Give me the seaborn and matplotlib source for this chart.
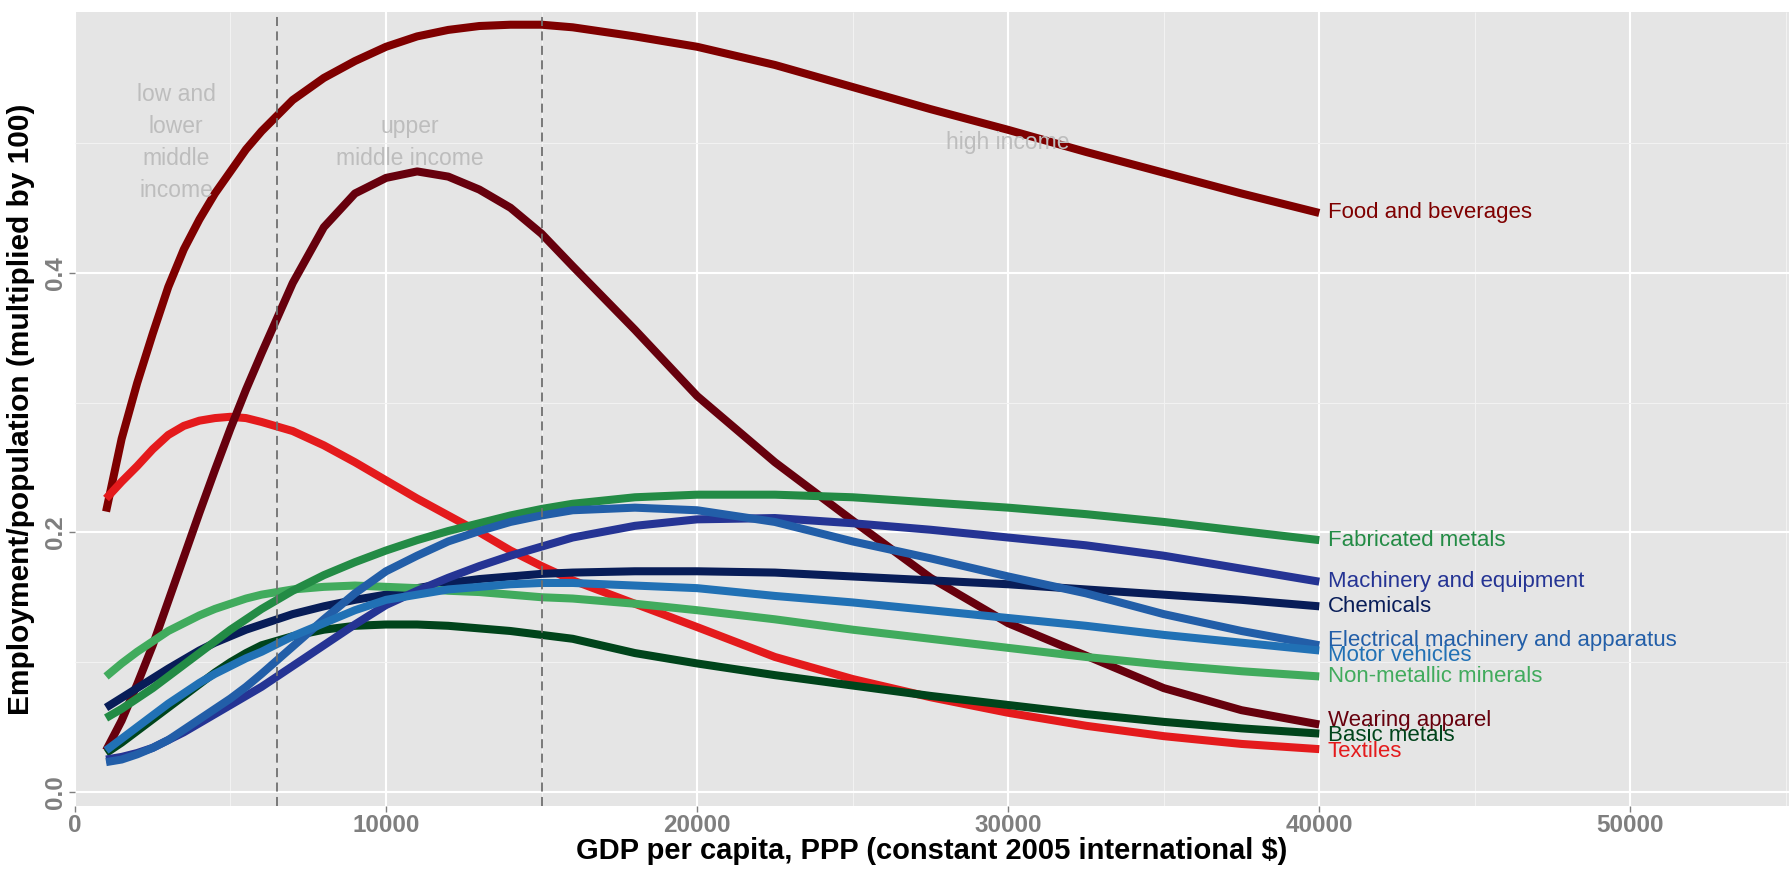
import matplotlib
matplotlib.use("Agg")
import matplotlib.pyplot as plt
import seaborn as sns
import numpy as np
import pandas as pd

# GDP per capita grid (constant 2005 international $)
gdp = [1000, 1500, 2000, 2500, 3000, 3500, 4000, 4500, 5000, 5500, 6000, 7000, 8000, 9000,
       10000, 11000, 12000, 13000, 14000, 15000, 16000, 18000, 20000, 22500, 25000, 27500,
       30000, 32500, 35000, 37500, 40000]

# employment / population (x100)
food = [0.216, 0.272, 0.315, 0.353, 0.389, 0.418, 0.441, 0.461, 0.478, 0.495, 0.509, 0.533,
        0.550, 0.563, 0.574, 0.582, 0.587, 0.590, 0.591, 0.591, 0.589, 0.582, 0.574, 0.560,
        0.543, 0.526, 0.510, 0.493, 0.477, 0.461, 0.446]
textiles = [0.226, 0.239, 0.251, 0.264, 0.275, 0.282, 0.286, 0.288, 0.289, 0.288, 0.285,
            0.278, 0.267, 0.254, 0.240, 0.226, 0.213, 0.200, 0.186, 0.174, 0.163, 0.145,
            0.127, 0.104, 0.087, 0.073, 0.061, 0.051, 0.043, 0.037, 0.033]
wearing = [0.032, 0.055, 0.083, 0.113, 0.147, 0.181, 0.215, 0.248, 0.280, 0.310, 0.338,
           0.392, 0.435, 0.461, 0.473, 0.478, 0.474, 0.464, 0.450, 0.430, 0.405, 0.356,
           0.305, 0.254, 0.209, 0.165, 0.130, 0.105, 0.080, 0.063, 0.052]
chemicals = [0.065, 0.0725, 0.080, 0.0875, 0.095, 0.102, 0.109, 0.115, 0.120, 0.125, 0.129,
             0.137, 0.143, 0.148, 0.152, 0.157, 0.161, 0.164, 0.166, 0.168, 0.169, 0.170,
             0.170, 0.169, 0.166, 0.163, 0.160, 0.156, 0.152, 0.148, 0.143]
nonmetallic = [0.089, 0.099, 0.108, 0.116, 0.124, 0.130, 0.136, 0.141, 0.145, 0.149, 0.152,
               0.156, 0.158, 0.159, 0.158, 0.157, 0.155, 0.154, 0.152, 0.150, 0.149, 0.145,
               0.140, 0.133, 0.125, 0.118, 0.111, 0.104, 0.098, 0.093, 0.089]
basic = [0.030, 0.038, 0.047, 0.056, 0.065, 0.074, 0.083, 0.092, 0.100, 0.107, 0.113, 0.120,
         0.125, 0.128, 0.129, 0.129, 0.128, 0.126, 0.124, 0.121, 0.118, 0.107, 0.099, 0.090,
         0.082, 0.074, 0.067, 0.060, 0.054, 0.049, 0.045]
fabricated = [0.057, 0.064, 0.072, 0.080, 0.089, 0.098, 0.107, 0.116, 0.125, 0.133, 0.141,
              0.155, 0.167, 0.177, 0.186, 0.194, 0.201, 0.207, 0.213, 0.218, 0.222, 0.227,
              0.229, 0.229, 0.227, 0.223, 0.219, 0.214, 0.208, 0.201, 0.194]
machinery = [0.025, 0.027, 0.030, 0.034, 0.040, 0.046, 0.053, 0.060, 0.067, 0.074, 0.081,
             0.097, 0.113, 0.129, 0.144, 0.155, 0.165, 0.174, 0.182, 0.189, 0.196, 0.205,
             0.210, 0.211, 0.207, 0.202, 0.196, 0.190, 0.182, 0.172, 0.162]
electrical = [0.023, 0.025, 0.029, 0.034, 0.040, 0.048, 0.056, 0.064, 0.072, 0.081, 0.091,
              0.112, 0.133, 0.153, 0.170, 0.182, 0.193, 0.201, 0.208, 0.213, 0.217, 0.219,
              0.217, 0.208, 0.193, 0.180, 0.166, 0.153, 0.137, 0.124, 0.113]
motor = [0.032, 0.041, 0.050, 0.059, 0.068, 0.076, 0.084, 0.091, 0.097, 0.103, 0.108, 0.120,
         0.130, 0.140, 0.148, 0.152, 0.156, 0.158, 0.160, 0.161, 0.161, 0.159, 0.157, 0.151,
         0.146, 0.140, 0.134, 0.128, 0.121, 0.115, 0.109]

industries = ["Food and beverages", "Textiles", "Wearing apparel", "Chemicals",
              "Non-metallic minerals", "Basic metals", "Fabricated metals",
              "Machinery and equipment", "Electrical machinery and apparatus", "Motor vehicles"]
series = [food, textiles, wearing, chemicals, nonmetallic, basic, fabricated,
          machinery, electrical, motor]
colors = ["#7F0000", "#E41A1C", "#67000D", "#081D58", "#41AB5D", "#00441B", "#238B45",
          "#253494", "#225EA8", "#2171B5"]

thresholds = [6500, 15000]
income_labels = ["low and\nlower\nmiddle\nincome", "upper\nmiddle income", "high income"]
income_x = [3250, 10750, 30000]

df = pd.DataFrame(
    [(name, g, v) for name, vals in zip(industries, series) for g, v in zip(gdp, vals)],
    columns=["industry", "gdp", "emp"],
)
palette = dict(zip(industries, colors))

sns.set_theme(style="darkgrid")
plt.rcParams.update({
    "font.family": ["Liberation Sans", "DejaVu Sans"],
    "axes.facecolor": "#E5E5E5",
    "grid.color": "white",
    "lines.solid_capstyle": "butt",
    "lines.solid_joinstyle": "round",
})

fig = plt.figure(figsize=(17.89, 8.69), dpi=100)
ax = fig.add_axes([0.0419, 0.0725, 0.9581, 0.914])

sns.lineplot(data=df, x="gdp", y="emp", hue="industry", hue_order=industries,
             palette=palette, linewidth=5.8, legend=False, ax=ax, zorder=3)

for t in thresholds:
    ax.axvline(t, color="#707070", lw=1.3, linestyle=(0, (5, 3)), zorder=5)

for tx, lab in zip(income_x, income_labels):
    ax.text(tx, 0.5, lab, ha="center", va="center", color="#BDBDBD",
            fontsize=16.5, linespacing=1.5, zorder=6)


# push overlapping end labels apart (like directlabels does)
def spread(vals, gap=0.0118, n_iter=300):
    order = np.argsort(vals)
    y = np.array(vals, dtype=float)[order]
    for _ in range(n_iter):
        for i in range(len(y) - 1):
            d = y[i + 1] - y[i]
            if d < gap:
                s = (gap - d) / 2
                y[i] -= s
                y[i + 1] += s
    out = np.empty_like(y)
    out[order] = y
    return out


ends = [vals[-1] for vals in series]
label_y = spread(ends)
for name, ly, c in zip(industries, label_y, colors):
    ax.annotate(name, xy=(gdp[-1], ly), xytext=(6, 0), textcoords="offset points",
                ha="left", va="center", color=c, fontsize=16, zorder=7)

ax.set_xlim(0, 55100)
ax.set_ylim(-0.0108, 0.601)
ax.set_xticks([0, 10000, 20000, 30000, 40000, 50000])
ax.set_xticks([5000, 15000, 25000, 35000, 45000, 55000], minor=True)
ax.set_yticks([0.0, 0.2, 0.4])
ax.set_yticks([0.1, 0.3, 0.5], minor=True)
ax.set_xticklabels(["0", "10000", "20000", "30000", "40000", "50000"])
ax.set_yticklabels(["0.0", "0.2", "0.4"], rotation=90, va="center")
ax.grid(which="major", color="white", lw=1.5)
ax.grid(which="minor", color="#F2F2F2", lw=0.8)
ax.tick_params(which="major", length=4, width=1, color="#7F7F7F", labelcolor="#7F7F7F",
               labelsize=17.5, pad=2, bottom=True, left=True)
ax.tick_params(which="minor", length=0)
for lab in ax.get_xticklabels() + ax.get_yticklabels():
    lab.set_fontweight("bold")
for s in ax.spines.values():
    s.set_visible(False)

ax.set_xlabel("GDP per capita, PPP (constant 2005 international $)", fontsize=21,
              fontweight="bold", color="black", labelpad=0)
ax.set_ylabel("Employment/population (multiplied by 100)", fontsize=21.5,
              fontweight="bold", color="black", labelpad=6)

fig.savefig("out.png", dpi=100, facecolor="white")
